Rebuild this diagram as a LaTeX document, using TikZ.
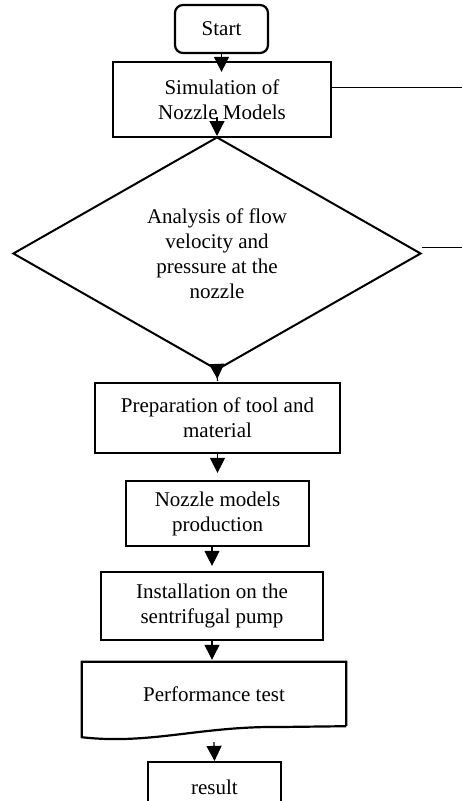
\documentclass[tikz,border=0pt]{standalone}
\usepackage{fontspec}
\setmainfont{Liberation Serif}
\usepackage{tikz}
\usetikzlibrary{arrows.meta,positioning,shapes.geometric,calc}

\begin{document}
\begin{tikzpicture}[x=1pt,y=-1pt,
  every node/.style={font=\fontsize{21}{25}\selectfont,align=center,inner sep=0pt},
  procbox/.style={draw,line width=2.2pt,rectangle,minimum width=#1},
  arr/.style={-{Triangle[width=15pt,length=15pt]},line width=1.2pt},
  sideline/.style={line width=0.9pt}]
  \useasboundingbox (0,0) rectangle (462,801);
  \clip (0,0) rectangle (462,801);
  \node[procbox=93pt,minimum height=48pt,rounded corners=8pt] (start) at (221.5,29) {Start};
  \node[procbox=218pt,minimum height=75pt] (sim) at (222,99.5) {Simulation of\\Nozzle Models};
  \node[draw,line width=2pt,diamond,minimum width=408pt,minimum height=233pt] (ana) at (217,253.5)
    {Analysis of flow\\velocity and\\pressure at the\\nozzle};
  \node[procbox=245pt,minimum height=70pt] (prep) at (217.5,418) {Preparation of tool and\\material};
  \node[procbox=183pt,minimum height=65pt] (nozzle) at (217.5,513.5) {Nozzle models\\production};
  \node[procbox=222pt,minimum height=68pt] (install) at (212,606) {Installation on the\\sentrifugal pump};
  \node[minimum width=264pt,minimum height=64pt] (perf) at (214,694) {Performance test};
  \draw[line width=2.2pt,line join=miter] (perf.south east) -- (perf.north east) -- (perf.north west)
    -- ([yshift=-11pt]perf.south west) .. controls (150,745) and (200,726) .. (280,727) -- (perf.south east);
  \node[procbox=133pt,minimum height=50pt] (result) at (214.5,787) {result};
  \coordinate (simout) at (462,87);
  \coordinate (anaout) at (462,247);
  \draw[sideline] (sim.east |- simout) -- (simout);
  \draw[sideline] (ana.east |- anaout) -- (anaout);
  \draw[arr,shorten >=-11pt] (start.south) -- (start.south |- sim.north);
  \draw[arr] ([yshift=19pt]ana.north) -- (ana.north);
  \draw[arr,shorten <=-10pt,shorten >=3pt] (ana.south) -- (prep.north);
  \draw[arr,shorten >=7pt] (prep.south) -- (nozzle.north);
  \draw[arr,shorten >=5pt] (install.north |- nozzle.south) -- (install.north);
  \draw[arr,shorten >=2pt] (install.south) -- (install.south |- perf.north);
  \draw[arr] ([yshift=-16pt]perf.south) -- (result.north);
\end{tikzpicture}
\end{document}
